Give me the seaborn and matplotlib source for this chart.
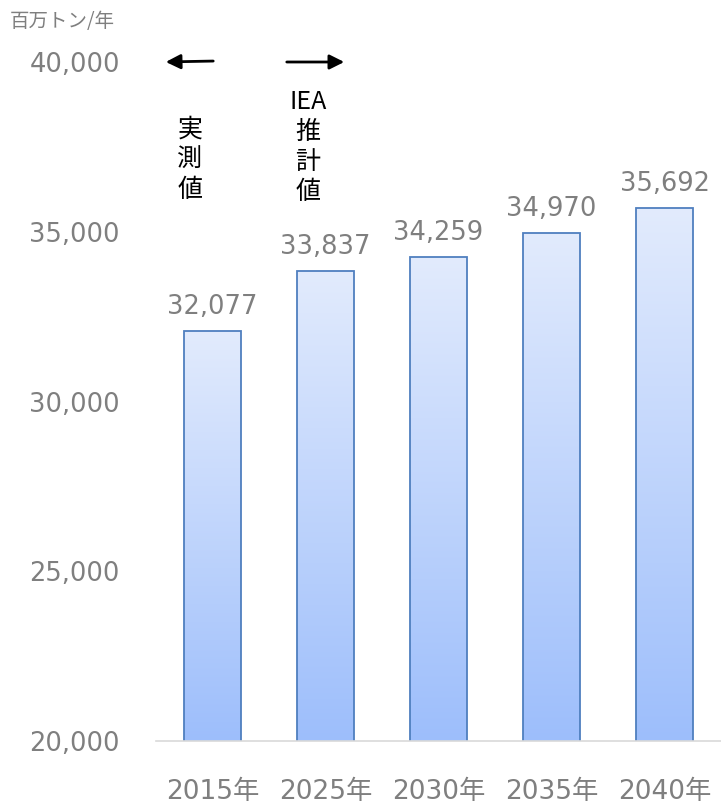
import numpy as np
import pandas as pd
import matplotlib
matplotlib.use("Agg")
import matplotlib.pyplot as plt
import seaborn as sns
from matplotlib.colors import LinearSegmentedColormap

# data
years = ["2015年", "2025年", "2030年", "2035年", "2040年"]
emissions = [32077, 33837, 34259, 34970, 35692]
y_ticks = [20000, 25000, 30000, 35000, 40000]

df = pd.DataFrame({"year": years, "value": emissions})

sns.set_theme(style="white")
plt.rcParams["font.family"] = ["DejaVu Sans", "Noto Sans CJK JP"]
jp = ["Noto Sans CJK JP", "DejaVu Sans"]

gray = "#7f7f7f"
fig = plt.figure(figsize=(7.21, 8.06), dpi=100)
ax = fig.add_axes([0.2164, 0.0806, 0.7836, 0.8424])

sns.barplot(data=df, x="year", y="value", ax=ax, width=0.5,
            color="#c5d7fb", edgecolor="#4f7fbf", linewidth=1.3)

ax.set_ylim(20000, 40000)
ax.set_xlim(-0.5, 4.5)
ax.set_yticks(y_ticks)
ax.set_yticklabels([f"{v:,}" for v in y_ticks])
ax.tick_params(axis="y", labelsize=18.5, labelcolor=gray, pad=26, length=0)
ax.tick_params(axis="x", labelsize=19, labelcolor=gray, pad=27, length=0)
ax.set_xlabel("")
ax.set_ylabel("")
for s in ["left", "right", "top"]:
    ax.spines[s].set_visible(False)
ax.spines["bottom"].set_color("#d9d9d9")
ax.spines["bottom"].set_linewidth(1.2)

# gradient fill for each bar
cmap = LinearSegmentedColormap.from_list("g", ["#9dbefb", "#e2ebfd"])
grad = np.linspace(0, 1, 256).reshape(-1, 1)
for bar in ax.patches:
    x0, y0 = bar.get_x(), bar.get_y()
    w, h = bar.get_width(), bar.get_height()
    im = ax.imshow(grad, cmap=cmap, origin="lower", aspect="auto",
                   extent=[x0, x0 + w, 20000, y0 + h], zorder=bar.get_zorder() + 0.1)
    im.set_clip_path(bar)
    bar.set_facecolor("none")
    bar.set_zorder(bar.get_zorder() + 0.2)

ax.set_xlim(-0.5, 4.5)
ax.set_ylim(20000, 40000)

for i, v in enumerate(emissions):
    ax.annotate(f"{v:,}", (i, v), xytext=(0, 8), textcoords="offset points",
                ha="center", va="bottom", fontsize=18.5, color=gray)

# unit label
fig.text(0.013, 0.973, "百万トン/年", fontsize=14, color=gray, ha="left", va="center",
         family=jp)

# arrows and notes
ax.annotate("", xy=(163 / 721, 1 - 62 / 806), xytext=(216 / 721, 1 - 61 / 806),
            xycoords="figure fraction", textcoords="figure fraction",
            arrowprops=dict(arrowstyle="-|>", color="black", lw=2, mutation_scale=22))
ax.annotate("", xy=(347 / 721, 1 - 62 / 806), xytext=(284 / 721, 1 - 62 / 806),
            xycoords="figure fraction", textcoords="figure fraction",
            arrowprops=dict(arrowstyle="-|>", color="black", lw=2, mutation_scale=22))
fig.text(190 / 721, 1 - 160 / 806, "実\n測\n値", fontsize=18, color="black",
         ha="center", va="center", linespacing=1.2, family=jp)
fig.text(308 / 721, 1 - 147 / 806, "IEA\n推\n計\n値", fontsize=18, color="black",
         ha="center", va="center", linespacing=1.2, family=jp)

fig.savefig("out.png", dpi=100)
